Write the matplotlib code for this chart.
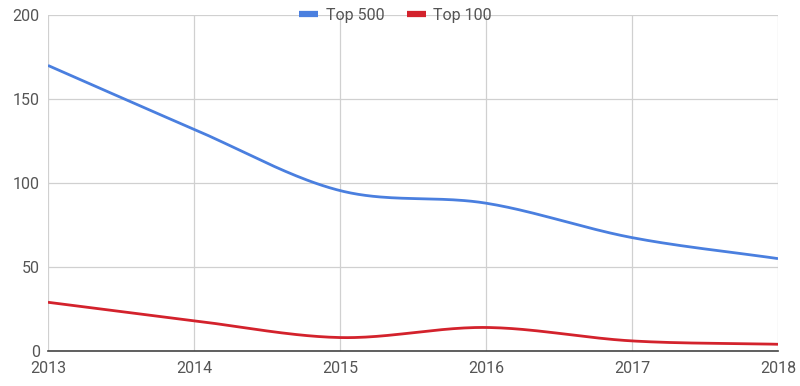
import numpy as np
import matplotlib
matplotlib.use("Agg")
import matplotlib.pyplot as plt

years = [2013, 2014, 2015, 2016, 2017, 2018]
top500 = [170, 132, 95.5, 88, 67.5, 55]
top100 = [29, 18, 8, 14, 6, 4]
yticks = [0, 50, 100, 150, 200]

plt.rcParams['font.family'] = ['Roboto', 'DejaVu Sans']

def smooth(x, y, n=40):
    x = np.asarray(x, float); y = np.asarray(y, float)
    m = np.zeros_like(y)
    m[1:-1] = (y[2:] - y[:-2]) / (x[2:] - x[:-2])
    m[0] = (y[1] - y[0]) / (x[1] - x[0])
    m[-1] = (y[-1] - y[-2]) / (x[-1] - x[-2])
    xs, ys = [], []
    for i in range(len(x) - 1):
        h = x[i+1] - x[i]
        t = np.linspace(0, 1, n, endpoint=(i == len(x) - 2))
        h00 = 2*t**3 - 3*t**2 + 1
        h10 = t**3 - 2*t**2 + t
        h01 = -2*t**3 + 3*t**2
        h11 = t**3 - t**2
        xs.append(x[i] + t*h)
        ys.append(h00*y[i] + h10*h*m[i] + h01*y[i+1] + h11*h*m[i+1])
    return np.concatenate(xs), np.concatenate(ys)

fig = plt.figure(figsize=(8, 3.86), dpi=100)
ax = fig.add_axes([0.06, 0.0907, 0.9125, 0.8703])

x5, y5 = smooth(years, top500)
x1, y1 = smooth(years, top100)
ax.plot(x5, y5, color='#4a7fdf', lw=2.0, label='Top 500', solid_capstyle='butt', zorder=3)
ax.plot(x1, y1, color='#d3222c', lw=2.0, label='Top 100', solid_capstyle='butt', zorder=3)

ax.set_xlim(2013, 2018)
ax.set_ylim(0, 200)
ax.set_xticks(years)
ax.set_yticks(yticks)
ax.grid(True, color='#d0d0d0', lw=0.9)
ax.set_axisbelow(True)
for s in ['top', 'right', 'left']:
    ax.spines[s].set_visible(False)
ax.spines['bottom'].set_color('#444444')
ax.spines['bottom'].set_linewidth(1.2)
ax.tick_params(length=0, colors='#555555', labelsize=11.5)
ax.tick_params(axis='y', pad=6)
ax.tick_params(axis='x', pad=7)

leg = ax.legend(loc='center', bbox_to_anchor=(0.476, 1.0), ncol=2, frameon=False,
                fontsize=11.5, handlelength=1.2, handletextpad=0.45, columnspacing=1.4)
for t in leg.get_texts():
    t.set_color('#555555')
for h in leg.get_lines():
    h.set_linewidth(4.5)

fig.savefig('out.png', dpi=100)
